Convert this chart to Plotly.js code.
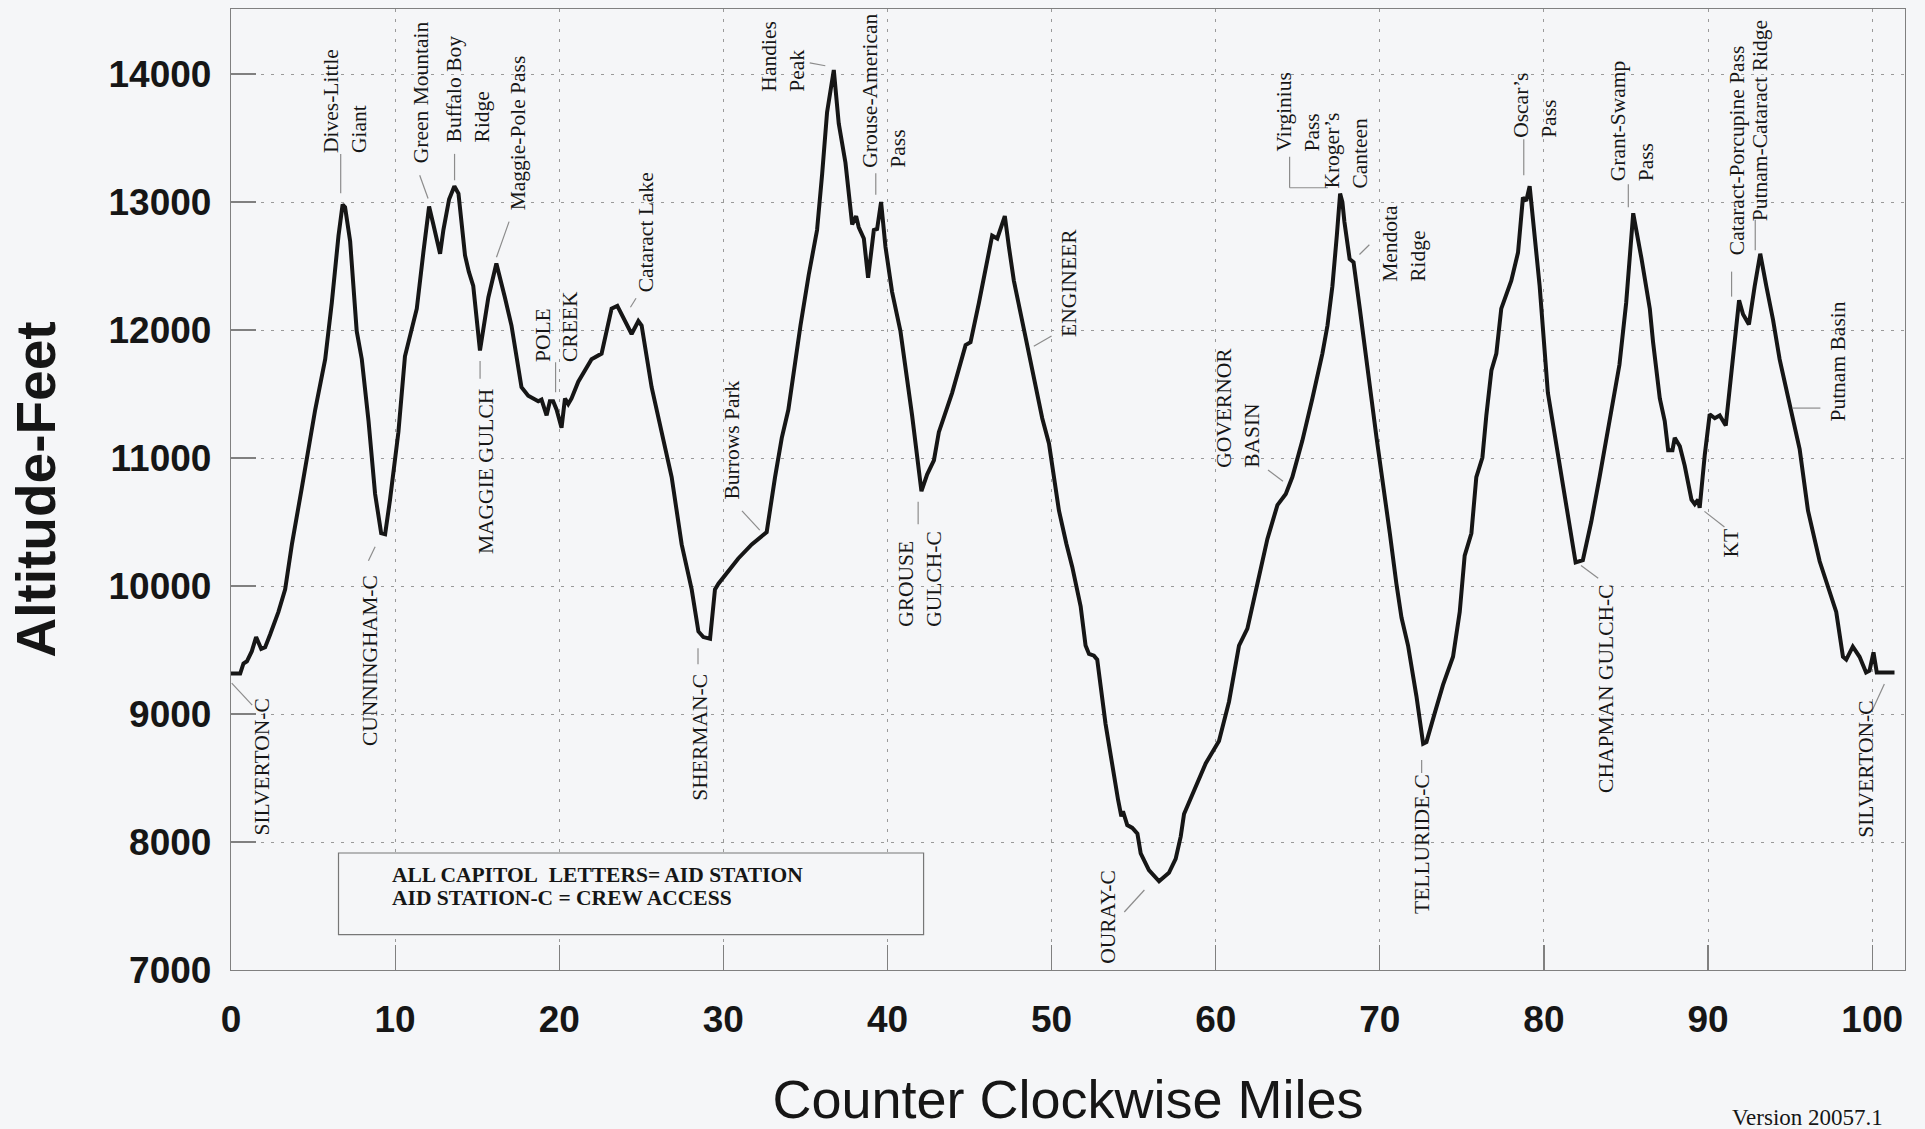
<!DOCTYPE html>
<html>
<head>
<meta charset="utf-8">
<script src="https://cdn.plot.ly/plotly-3.0.1.min.js"></script>
<style>html,body{margin:0;padding:0;background:#f5f6f8;}#chart{width:1925px;height:1129px;}</style>
</head>
<body>
<div id="chart"></div>
<script>
// ---- Elevation profile (miles, feet) ----
const miles = [0,0.56,0.76,0.97,1.27,1.53,1.84,2.08,2.39,2.89,3.30,3.71,4.31,5.13,5.74,6.14,6.55,6.80,6.95,7.26,7.66,7.97,8.38,8.78,9.15,9.39,9.69,10.2,10.6,11.0,11.32,11.72,12.07,12.33,12.74,12.94,13.29,13.61,13.86,14.26,14.49,14.76,15.17,15.68,16.17,16.69,17.09,17.70,18.11,18.72,18.92,19.23,19.43,19.63,19.84,20.14,20.35,20.55,20.75,21.16,21.97,22.58,22.78,23.19,23.54,23.90,24.41,24.82,25.02,25.63,26.24,26.85,27.46,28.07,28.48,28.78,29.19,29.49,29.70,30.91,31.73,32.64,33.15,33.56,33.96,34.19,34.70,35.20,35.71,36.02,36.32,36.73,37.03,37.44,37.85,38.09,38.25,38.56,38.82,39.17,39.37,39.61,39.88,40.28,40.79,41.50,42.07,42.42,42.83,43.13,43.94,44.76,45.06,45.57,46.38,46.69,47.15,47.40,47.70,48.41,48.92,49.43,49.84,50.45,50.90,51.26,51.77,52.07,52.28,52.58,52.78,53.29,54.05,54.25,54.35,54.61,54.92,55.23,55.43,55.93,56.55,57.15,57.56,57.87,58.07,58.78,59.39,60.20,60.81,61.42,61.93,62.54,63.15,63.76,64.27,64.67,65.28,65.89,66.50,66.81,67.11,67.38,67.58,67.72,67.84,68.16,68.40,68.78,69.19,69.49,69.80,70.20,70.61,71.01,71.32,71.72,72.23,72.64,72.84,73.35,73.85,74.46,74.87,75.17,75.58,75.88,76.25,76.49,76.80,77.10,77.40,78.01,78.42,78.72,78.92,79.13,79.33,79.74,80.24,80.75,81.36,81.93,82.37,82.88,83.39,84.00,84.60,85.01,85.44,85.94,86.45,86.65,87.06,87.36,87.57,87.83,87.97,88.28,88.58,88.99,89.19,89.39,89.49,89.80,90.10,90.41,90.71,91.08,91.32,91.62,91.89,92.13,92.49,92.84,93.18,93.55,93.96,94.36,94.97,95.58,96.09,96.80,97.81,98.22,98.42,98.82,99.23,99.63,99.84,100.08,100.28,101.36];
const altitude = [9316,9316,9395,9412,9491,9601,9509,9522,9623,9798,9974,10325,10763,11377,11772,12211,12737,12980,12960,12693,11991,11772,11289,10719,10412,10404,10675,11202,11794,11991,12167,12605,12965,12825,12596,12781,13022,13123,13066,12583,12456,12345,11840,12254,12520,12254,12035,11553,11487,11443,11456,11333,11443,11443,11377,11237,11465,11421,11465,11596,11772,11816,11925,12167,12189,12101,11969,12070,12035,11553,11202,10851,10325,9974,9645,9601,9588,9974,10018,10215,10325,10421,10851,11158,11377,11596,12035,12430,12781,13219,13702,14031,13614,13307,12825,12890,12803,12715,12408,12781,12789,13000,12649,12298,11991,11333,10741,10873,10982,11202,11509,11882,11904,12211,12737,12715,12890,12649,12386,11947,11640,11311,11114,10588,10330,10149,9842,9535,9469,9456,9425,8921,8330,8200,8240,8132,8110,8066,7912,7781,7693,7759,7868,8044,8219,8439,8614,8789,9096,9535,9667,10018,10368,10632,10719,10851,11136,11465,11816,12035,12342,12737,13066,13000,12848,12555,12530,12167,11728,11465,11158,10807,10412,10018,9754,9535,9140,8768,8781,9009,9228,9447,9798,10237,10412,10851,11004,11333,11684,11816,12167,12386,12605,13035,13009,13123,12868,12342,11509,11114,10632,10184,10202,10500,10851,11289,11728,12211,12912,12561,12167,11904,11465,11289,11061,11061,11158,11092,10939,10675,10640,10675,10610,11026,11342,11311,11333,11254,11553,11860,12232,12123,12044,12342,12596,12342,12079,11772,11421,11070,10588,10193,9798,9447,9425,9526,9447,9325,9338,9482,9325,9325];

// ---- Waypoints (name, mile, altitude) ----
const wpNames = ['SILVERTON-C','Dives-Little<br>Giant','CUNNINGHAM-C','Green Mountain','Buffalo Boy<br>Ridge','MAGGIE GULCH','Maggie-Pole Pass','POLE<br>CREEK','Cataract Lake','SHERMAN-C','Burrows Park','Handies<br>Peak','Grouse-American<br>Pass','GROUSE<br>GULCH-C','ENGINEER','OURAY-C','GOVERNOR<br>BASIN','Virginius<br>Pass','Kroger\u2019s<br>Canteen','Mendota<br>Ridge','TELLURIDE-C','Oscar\u2019s<br>Pass','CHAPMAN GULCH-C','Grant-Swamp<br>Pass','KT','Cataract-Porcupine Pass','Putnam-Cataract Ridge','Putnam Basin','SILVERTON-C'];
const wpMiles = [0,6.8,9.3,12.07,13.61,15.17,16.17,19.74,23.9,28.9,32.64,36.73,39.61,42.07,48.5,56.55,64.27,67.58,67.58,68.4,72.64,79.13,81.93,85.44,89.39,91.89,93.18,94.87,100.7];
const wpAlts  = [9316,12980,10400,12965,13123,11840,12520,11420,12100,9595,10421,14031,13000,10741,11900,7693,10719,13066,13066,12530,8768,13123,10184,12912,10640,12232,12596,11390,9325];

// ---- Axis ticks ----
const xTicks = [0,10,20,30,40,50,60,70,80,90,100];
const yTicks = [7000,8000,9000,10000,11000,12000,13000,14000];

// ---- Label layout: text offsets (px, up positive) and leader segments (px offsets from waypoint) ----
const textOffsets = [[31,-94],[2.3,103.5],[-14.2,-125.8],[-8.2,114.2],[13.3,97.5],[5.9,-120.7],[21.7,130.2],[1.8,78],[22.8,85],[-5.3,-99.8],[-34.3,92],[-50.3,12.9],[3.4,111.8],[-0.8,-88],[41.8,59.6],[-51.3,-35.7],[-47.8,86.1],[-42.5,81.6],[6.2,43.3],[51.1,19],[-1.3,-100.4],[5.9,81],[30.3,-126.5],[-1.7,92.5],[33.9,-38.4],[-2.1,150.1],[-0.8,133],[50.4,46.9],[-18.5,-97.2]];
const leaderSegs = [
  [[21.2,-31.5,0.7,-9.5]],
  [[-1.9,50.7,-1.9,11.3]],
  [[-15.2,-26,-8.5,-11.9]],
  [[-9.4,31.2,-1,8]],
  [[0.2,32.4,0.2,6]],
  [[0.1,-10.4,0.1,-28.3]],
  [[12.7,41.8,0.1,6.2]],
  [[0.6,42,0.6,12]],
  [[12.8,19,7.2,10]],
  [[-7.3,-10.3,-7.3,-26.3]],
  [[-24.7,21.3,-6.9,2]],
  [[-24.1,7.2,-8.5,4.3]],
  [[-5.3,28.8,-5.3,7.2]],
  [[-3.3,-10.7,-3.3,-33]],
  [[24.6,6.9,6.8,-3.4]],
  [[-34.8,-30.7,-14.7,-8.7]],
  [[-17.8,24,-2.8,12.8]],
  [[-50.5,36.7,-50.5,5.8],[-50.5,5.8,-12.2,5.8]],
  [],
  [[15.8,17.4,5.9,7.7]],
  [[-1.5,-16.4,-1.5,-29.4]],
  [[-5.9,47,-5.9,11]],
  [[5.4,-3.1,22.6,-15.7]],
  [[-4.9,29,-4.9,6]],
  [[26.4,-23,6.4,-7.3]],
  [[-7.5,28.7,-7.5,3.7]],
  [[-5,33.9,-5,3.5]],
  [[4.7,0,32.4,0]],
  [[-11,-37.1,0.7,-11.7]]
];

const noteLines = ['ALL CAPITOL\u00A0 LETTERS= AID STATION','AID STATION-C = CREW ACCESS'];
const versionText = 'Version 20057.1';

const BG = '#f5f6f8';
const INK = '#161616';
const GRID = '#9a9a9a';
const serif = 'Liberation Serif, Times New Roman, serif';
const sans = 'Liberation Sans, Arial, sans-serif';

const annotations = [];
const shapes = [];
wpNames.forEach((name, i) => {
  annotations.push({
    x: wpMiles[i], y: wpAlts[i], xref: 'x', yref: 'y',
    xshift: textOffsets[i][0], yshift: textOffsets[i][1],
    text: name, showarrow: false, textangle: -90, align: 'left',
    xanchor: 'center', yanchor: 'middle',
    font: {family: serif, size: 21.5, color: INK}
  });
  leaderSegs[i].forEach(s => {
    shapes.push({
      type: 'line', xref: 'x', yref: 'y',
      xsizemode: 'pixel', ysizemode: 'pixel',
      xanchor: wpMiles[i], yanchor: wpAlts[i],
      x0: s[0], y0: s[1], x1: s[2], y1: s[3],
      line: {color: '#8c8c8c', width: 1.2}, layer: 'above'
    });
  });
});

// legend note box
shapes.push({type: 'rect', xref: 'x', yref: 'y', x0: 6.55, x1: 42.2, y0: 7277, y1: 7914,
  line: {color: '#777', width: 1.2}, fillcolor: BG, layer: 'between'});
annotations.push({x: 9.7, y: 7744, xref: 'x', yref: 'y', xanchor: 'left', yanchor: 'middle', showarrow: false,
  text: noteLines[0], font: {family: serif, size: 21.5, color: INK, weight: 'bold'}});
annotations.push({x: 9.7, y: 7561, xref: 'x', yref: 'y', xanchor: 'left', yanchor: 'middle', showarrow: false,
  text: noteLines[1], font: {family: serif, size: 21.5, color: INK, weight: 'bold'}});
annotations.push({x: 0.942, y: -0.153, xref: 'paper', yref: 'paper', xanchor: 'center', yanchor: 'middle', showarrow: false,
  text: versionText, font: {family: serif, size: 23, color: INK}});

const trace = {
  x: miles, y: altitude, type: 'scatter', mode: 'lines',
  line: {color: INK, width: 4}, hoverinfo: 'skip', showlegend: false
};

const axisCommon = {
  ticks: 'inside', ticklen: 25, tickwidth: 1.2, tickcolor: '#808080',
  showgrid: true, gridcolor: GRID, griddash: '3px,7px', gridwidth: 1,
  showline: true, linecolor: '#808080', linewidth: 1.2, mirror: true,
  zeroline: false, automargin: false,
  tickfont: {family: sans, size: 37, color: INK, weight: 'bold'}
};

const layout = {
  width: 1925, height: 1129,
  paper_bgcolor: BG, plot_bgcolor: BG,
  margin: {l: 231, r: 20, t: 9, b: 159},
  showlegend: false,
  xaxis: Object.assign({}, axisCommon, {
    range: [0, 102], tickvals: xTicks, ticktext: xTicks.map(String),
    ticklabelstandoff: 16,
    title: {text: 'Counter Clockwise Miles', standoff: 54, font: {family: sans, size: 54, color: INK}}
  }),
  yaxis: Object.assign({}, axisCommon, {
    range: [7000, 14508], tickvals: yTicks, ticktext: yTicks.map(String),
    ticklabelstandoff: 11,
    title: {text: 'Altitude-Feet', standoff: 35, font: {family: sans, size: 55, color: INK, weight: 'bold'}}
  }),
  shapes: shapes,
  annotations: annotations
};

Plotly.newPlot('chart', [trace], layout, {displayModeBar: false, staticPlot: true});
</script>
</body>
</html>
